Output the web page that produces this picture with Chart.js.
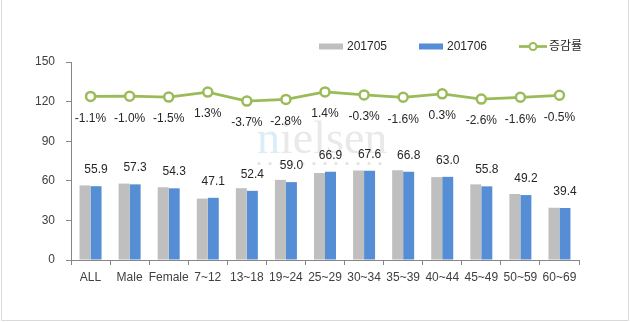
<!DOCTYPE html>
<html><head><meta charset="utf-8">
<script src="https://cdn.jsdelivr.net/npm/chart.js@4/dist/chart.umd.min.js"></script>
<style>html,body{margin:0;padding:0;background:#fff}#c{display:block}</style>
</head><body>
<canvas id="c" width="630" height="322"></canvas>
<script>
const categories = ['ALL','Male','Female','7~12','13~18','19~24','25~29','30~34','35~39','40~44','45~49','50~59','60~69'];
const seriesNames = ['201705','201706','증감률'];
const values201705 = [56.5,57.9,55.1,46.5,54.4,60.7,66.0,67.8,67.9,62.8,57.3,50.0,39.6];
const values201706 = [55.9,57.3,54.3,47.1,52.4,59.0,66.9,67.6,66.8,63.0,55.8,49.2,39.4];
const changeRate = [-1.1,-1.0,-1.5,1.3,-3.7,-2.8,1.4,-0.3,-1.6,0.3,-2.6,-1.6,-0.5];
const yTicks = [0,30,60,90,120,150];

const FONT = "'Liberation Sans', 'Noto Sans CJK KR', sans-serif";
const GRAY = '#bfbfbf', BLUE = '#558ed5', GREEN = '#9bbb59', AXIS = '#868686', TXT = '#262626';

const frame = {
  id: 'frame',
  beforeDraw(chart) {
    const ctx = chart.ctx;
    ctx.save();
    ctx.fillStyle = '#fff';
    ctx.fillRect(0, 0, chart.width, chart.height);
    ctx.strokeStyle = '#d9d9d9';
    ctx.lineWidth = 1;
    ctx.beginPath();
    ctx.moveTo(1.5, 0); ctx.lineTo(1.5, 320.5); ctx.lineTo(628.5, 320.5); ctx.lineTo(628.5, 0);
    ctx.stroke();
    ctx.restore();
  },
  beforeDatasetsDraw(chart) {
    const ctx = chart.ctx;
    ctx.save();
    ctx.font = "46px 'Liberation Serif', serif";
    ctx.textBaseline = 'alphabetic';
    ctx.textAlign = 'left';
    ctx.fillStyle = 'rgba(175,215,235,0.45)';
    ctx.fillText('n', 257, 153);
    const w = ctx.measureText('n').width;
    ctx.fillStyle = 'rgba(200,200,200,0.40)';
    ctx.fillText('ielsen', 257 + w, 153);
    ctx.fillStyle = 'rgba(200,200,200,0.5)';
    for (let i = 0; i < 12; i++) {
      ctx.beginPath();
      ctx.arc(259 + i * 11, 163.5, 1.6, 0, Math.PI * 2);
      ctx.fill();
    }
    ctx.restore();
  }
};

const labelsPlugin = {
  id: 'valueLabels',
  afterDatasetsDraw(chart) {
    const ctx = chart.ctx;
    ctx.save();
    ctx.font = '12px ' + FONT;
    ctx.fillStyle = TXT;
    ctx.textAlign = 'center';
    ctx.textBaseline = 'middle';
    const bars = chart.getDatasetMeta(1).data;
    bars.forEach((el, i) => {
      ctx.fillText(values201706[i].toFixed(1), el.x, el.y - 16.5);
    });
    const pts = chart.getDatasetMeta(2).data;
    pts.forEach((el, i) => {
      ctx.fillText(changeRate[i].toFixed(1) + '%', el.x, el.y + 22);
    });
    ctx.restore();
  }
};

const legendPlugin = {
  id: 'customLegend',
  afterDraw(chart) {
    const ctx = chart.ctx;
    const ds = chart.data.datasets;
    const cy = 46.5;
    ctx.save();
    ctx.font = '12px ' + FONT;
    ctx.fillStyle = TXT;
    ctx.textBaseline = 'middle';
    ctx.textAlign = 'left';
    // bar items
    const starts = [319, 419];
    [0, 1].forEach(k => {
      ctx.fillStyle = ds[k].backgroundColor;
      ctx.fillRect(starts[k], cy - 3, 24, 6);
      ctx.fillStyle = TXT;
      ctx.fillText(ds[k].label, starts[k] + 28, cy);
    });
    // line item
    ctx.strokeStyle = ds[2].borderColor;
    ctx.lineWidth = 2.75;
    ctx.beginPath(); ctx.moveTo(519, cy); ctx.lineTo(547, cy); ctx.stroke();
    ctx.beginPath(); ctx.arc(533, cy, 3.5, 0, Math.PI * 2);
    ctx.fillStyle = '#fff'; ctx.fill();
    ctx.lineWidth = 2; ctx.stroke();
    ctx.fillStyle = TXT;
    ctx.fillText(ds[2].label, 549, cy);
    ctx.restore();
  }
};

new Chart(document.getElementById('c'), {
  type: 'bar',
  data: {
    labels: categories,
    datasets: [
      { label: seriesNames[0], data: values201705, backgroundColor: GRAY, categoryPercentage: 0.563, barPercentage: 1, order: 2, yAxisID: 'y' },
      { label: seriesNames[1], data: values201706, backgroundColor: BLUE, categoryPercentage: 0.563, barPercentage: 1, order: 2, yAxisID: 'y' },
      { type: 'line', label: seriesNames[2], data: changeRate, borderColor: GREEN, backgroundColor: '#fff',
        borderWidth: 2.75, pointRadius: 4.5, pointBorderWidth: 2.5, pointBackgroundColor: '#fff', pointBorderColor: GREEN,
        tension: 0, order: 0, yAxisID: 'y2' }
    ]
  },
  options: {
    responsive: false,
    animation: false,
    devicePixelRatio: 1,
    layout: { padding: { left: 0, right: 51, top: 62, bottom: 0 } },
    plugins: { legend: { display: false }, tooltip: { enabled: false } },
    scales: {
      x: {
        grid: { offset: true, drawOnChartArea: false, drawTicks: true, tickLength: 5, color: AXIS },
        border: { color: AXIS, width: 1 },
        ticks: { color: '#404040', font: { family: FONT, size: 12 }, padding: 5, maxRotation: 0, autoSkip: false },
        afterFit(scale) { scale.height = 62; }
      },
      y: {
        min: yTicks[0], max: yTicks[yTicks.length - 1],
        afterBuildTicks(scale) { scale.ticks = yTicks.map(v => ({ value: v })); },
        grid: { drawOnChartArea: false, drawTicks: true, tickLength: 5, color: AXIS },
        border: { color: AXIS, width: 1 },
        ticks: { color: '#404040', font: { family: FONT, size: 12 }, padding: 11 },
        afterFit(scale) { scale.width = 71; }
      },
      y2: { display: false, min: -92, max: 18 }
    }
  },
  plugins: [frame, labelsPlugin, legendPlugin]
});
</script>
</body></html>
